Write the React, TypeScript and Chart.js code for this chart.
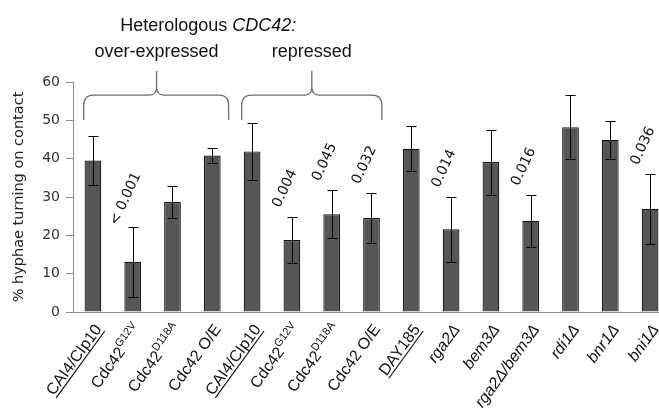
import React, { useEffect, useRef } from "react";
import { Chart, registerables } from "chart.js";

Chart.register(...registerables);

// ---------- data ----------
const categories = [
  "CAI4/CIp10", "Cdc42", "Cdc42", "Cdc42 O/E",
  "CAI4/CIp10", "Cdc42", "Cdc42", "Cdc42 O/E",
  "DAY185", "rga2Δ", "bem3Δ", "rga2Δ/bem3Δ", "rdi1Δ", "bnr1Δ", "bni1Δ",
];
const superscripts = ["", "G12V", "D118A", "", "", "G12V", "D118A", "", "", "", "", "", "", "", ""];
const underlined = [true, false, false, false, true, false, false, false, true, false, false, false, false, false, false];
const italicLabels = [false, false, false, false, false, false, false, false, false, true, true, true, true, true, true];

const means = [39.5, 13.1, 28.7, 40.8, 41.9, 18.8, 25.5, 24.5, 42.6, 21.6, 39.1, 23.8, 48.2, 44.9, 26.9];
const errors = [6.3, 9.1, 4.1, 1.9, 7.4, 6.1, 6.3, 6.5, 5.8, 8.5, 8.5, 6.8, 8.3, 5.0, 9.1];
const pValues = ["", "< 0.001", "", "", "", "0.004", "0.045", "0.032", "", "0.014", "", "0.016", "", "", "0.036"];

const yMin = 0;
const yMax = 60;
const yStep = 10;
const yTitle = "% hyphae turning on contact";

const headerPlain = "Heterologous ";
const headerItalic = "CDC42:";
const groupLabels = ["over-expressed", "repressed"];

// annotation geometry (category units / value units)
const groupSpans = [
  { from: -0.23, to: 3.41, peak: 1.6 },
  { from: 3.74, to: 7.26, peak: 5.5 },
];
const bracketPeak = 62.9;
const bracketFlat = 56.6;
const bracketEnd = 50.1;
const headerCenter = 2.9;
const headerLine1 = 73.2;
const headerLine2 = 66.6;

const SANS = "'Liberation Sans', Arial, sans-serif";
const VERD = "'DejaVu Sans', Verdana, sans-serif";

const overlay = {
  id: "overlay",
  afterDatasetsDraw(chart: any) {
    const ctx: CanvasRenderingContext2D = chart.ctx;
    const xs = chart.scales.x;
    const ys = chart.scales.y;
    const x0 = xs.getPixelForValue(0);
    const step = xs.getPixelForValue(1) - x0;
    const px = (v: number) => x0 + v * step;
    ctx.save();

    // error bars
    ctx.strokeStyle = "#000";
    ctx.lineWidth = 1;
    means.forEach((m, i) => {
      const x = Math.round(px(i)) + 0.5;
      const yt = Math.round(ys.getPixelForValue(m + errors[i])) + 0.5;
      const yb = Math.round(ys.getPixelForValue(m - errors[i])) + 0.5;
      ctx.beginPath();
      ctx.moveTo(x, yt);
      ctx.lineTo(x, yb);
      ctx.moveTo(x - 5, yt);
      ctx.lineTo(x + 5, yt);
      ctx.moveTo(x - 5, yb);
      ctx.lineTo(x + 5, yb);
      ctx.stroke();
    });

    // p-values
    ctx.font = `14px ${VERD}`;
    ctx.fillStyle = "#111";
    ctx.textAlign = "center";
    ctx.textBaseline = "middle";
    pValues.forEach((p, i) => {
      if (!p) return;
      const x = px(i) - 7;
      const y = ys.getPixelForValue(means[i] + errors[i]) - 28;
      ctx.save();
      ctx.translate(x, y);
      ctx.rotate((-65 * Math.PI) / 180);
      ctx.fillText(p, 0, 0);
      ctx.restore();
    });

    // x labels
    const base = chart.chartArea.bottom;
    categories.forEach((c, i) => {
      ctx.save();
      ctx.translate(px(i) + 5, base + 14);
      ctx.rotate((-54 * Math.PI) / 180);
      const mainFont = `${italicLabels[i] ? "italic " : ""}16px ${SANS}`;
      const supFont = `11px ${SANS}`;
      ctx.font = mainFont;
      const wm = ctx.measureText(c).width;
      let ws = 0;
      const sup = superscripts[i];
      if (sup) {
        ctx.font = supFont;
        ws = ctx.measureText(sup).width;
      }
      const start = -(wm + ws);
      ctx.textAlign = "left";
      ctx.textBaseline = "alphabetic";
      ctx.fillStyle = "#111";
      ctx.font = mainFont;
      ctx.fillText(c, start, 5.5);
      if (sup) {
        ctx.font = supFont;
        ctx.fillText(sup, start + wm, -1.5);
      }
      if (underlined[i]) {
        ctx.strokeStyle = "#111";
        ctx.lineWidth = 1.2;
        ctx.beginPath();
        ctx.moveTo(start, 8.5);
        ctx.lineTo(0, 8.5);
        ctx.stroke();
      }
      ctx.restore();
    });

    // brackets
    ctx.strokeStyle = "#6e6e6e";
    ctx.lineWidth = 1.3;
    const yP = ys.getPixelForValue(bracketPeak);
    const yF = ys.getPixelForValue(bracketFlat);
    const yE = ys.getPixelForValue(bracketEnd);
    groupSpans.forEach((g) => {
      const L = px(g.from);
      const R = px(g.to);
      const P = px(g.peak);
      ctx.beginPath();
      ctx.moveTo(L, yE);
      ctx.lineTo(L, yF + 10);
      ctx.quadraticCurveTo(L, yF, L + 10, yF);
      ctx.lineTo(P - 7, yF);
      ctx.quadraticCurveTo(P, yF, P, yF - 8);
      ctx.lineTo(P, yP);
      ctx.moveTo(P, yF - 8);
      ctx.quadraticCurveTo(P, yF, P + 7, yF);
      ctx.lineTo(R - 10, yF);
      ctx.quadraticCurveTo(R, yF, R, yF + 10);
      ctx.lineTo(R, yE);
      ctx.stroke();
    });

    // header texts
    ctx.fillStyle = "#111";
    ctx.textBaseline = "alphabetic";
    ctx.textAlign = "left";
    const f1 = `18px ${SANS}`;
    const f2 = `italic 18px ${SANS}`;
    ctx.font = f1;
    const w1 = ctx.measureText(headerPlain).width;
    ctx.font = f2;
    const w2 = ctx.measureText(headerItalic).width;
    const hx = px(headerCenter) - (w1 + w2) / 2;
    const hy = ys.getPixelForValue(headerLine1);
    ctx.font = f1;
    ctx.fillText(headerPlain, hx, hy);
    ctx.font = f2;
    ctx.fillText(headerItalic, hx + w1, hy);
    ctx.font = f1;
    ctx.textAlign = "center";
    const gy = ys.getPixelForValue(headerLine2);
    groupSpans.forEach((g, i) => {
      ctx.fillText(groupLabels[i], px(g.peak), gy);
    });

    ctx.restore();
  },
};

export default function App() {
  const ref = useRef<HTMLCanvasElement | null>(null);
  useEffect(() => {
    if (!ref.current) return;
    const chart = new Chart(ref.current, {
      type: "bar",
      data: {
        labels: categories,
        datasets: [
          {
            data: means,
            backgroundColor: "#565656",
            borderColor: "#111111",
            borderWidth: 1.2,
            barPercentage: 0.42,
            categoryPercentage: 1,
          },
        ],
      },
      options: {
        animation: false,
        responsive: false,
        devicePixelRatio: 1,
        layout: { padding: { left: 0, top: 82, right: 10, bottom: 101 } },
        plugins: {
          legend: { display: false },
          tooltip: { enabled: false },
        },
        scales: {
          x: {
            grid: { display: true, drawOnChartArea: false, drawTicks: false },
            border: { display: true, color: "#8c8c8c", width: 1 },
            ticks: { display: false },
            afterFit: (s: any) => {
              s.height = 0;
            },
          },
          y: {
            min: yMin,
            max: yMax,
            ticks: {
              stepSize: yStep,
              font: { family: VERD, size: 14 },
              color: "#333",
              padding: 6,
            },
            grid: { display: true, drawOnChartArea: false, drawTicks: true, tickLength: 7, color: "#8c8c8c" },
            border: { display: true, color: "#8c8c8c", width: 1 },
            title: {
              display: true,
              text: yTitle,
              font: { family: VERD, size: 14.5 },
              color: "#222",
              padding: { top: 11, bottom: 0 },
            },
            afterFit: (s: any) => {
              s.width = 73;
            },
          },
        },
      },
      plugins: [overlay],
    });
    return () => chart.destroy();
  }, []);
  return (
    <div style={{ position: "fixed", left: 0, top: 0, width: 680, height: 413, background: "#fff" }}>
      <canvas ref={ref} width={680} height={413} style={{ width: 680, height: 413 }} />
    </div>
  );
}
